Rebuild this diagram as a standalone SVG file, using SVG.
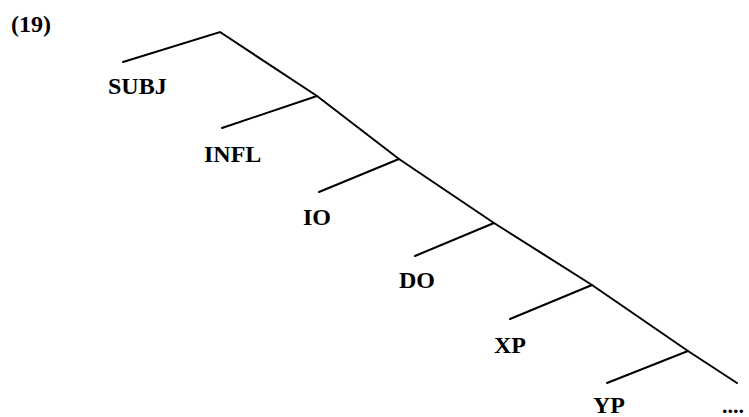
<svg xmlns="http://www.w3.org/2000/svg" width="749" height="417" viewBox="0 0 749 417">
<style>
.l{stroke:#000;stroke-width:2;fill:none;stroke-linecap:round}
.t{font-family:"Liberation Serif","Times New Roman",serif;font-weight:bold;font-size:24px;fill:#000}
</style>
<rect width="749" height="417" fill="#fff"/>
<text class="t" x="11" y="32">(19)</text>
<g id="connectors">
<polyline class="l" points="123,62 220,32 317,96 399,159 494,223 592,285 688,351 737,383"/>
<line class="l" x1="317" y1="96" x2="222" y2="128"/>
<line class="l" x1="399" y1="159" x2="319" y2="192"/>
<line class="l" x1="494" y1="223" x2="415" y2="256"/>
<line class="l" x1="592" y1="285" x2="510" y2="319"/>
<line class="l" x1="688" y1="351" x2="607" y2="383"/>
</g>
<g id="subj"><text class="t" x="108" y="94">SUBJ</text></g>
<g id="infl"><text class="t" x="204" y="162">INFL</text></g>
<g id="io"><text class="t" x="303" y="225">IO</text></g>
<g id="do"><text class="t" x="399" y="288">DO</text></g>
<g id="xp"><text class="t" x="494" y="353">XP</text></g>
<g id="yp"><text class="t" x="593" y="413">YP</text></g>
<g id="more"><text class="t" x="722" y="413" style="font-size:22px">....</text></g>
</svg>
